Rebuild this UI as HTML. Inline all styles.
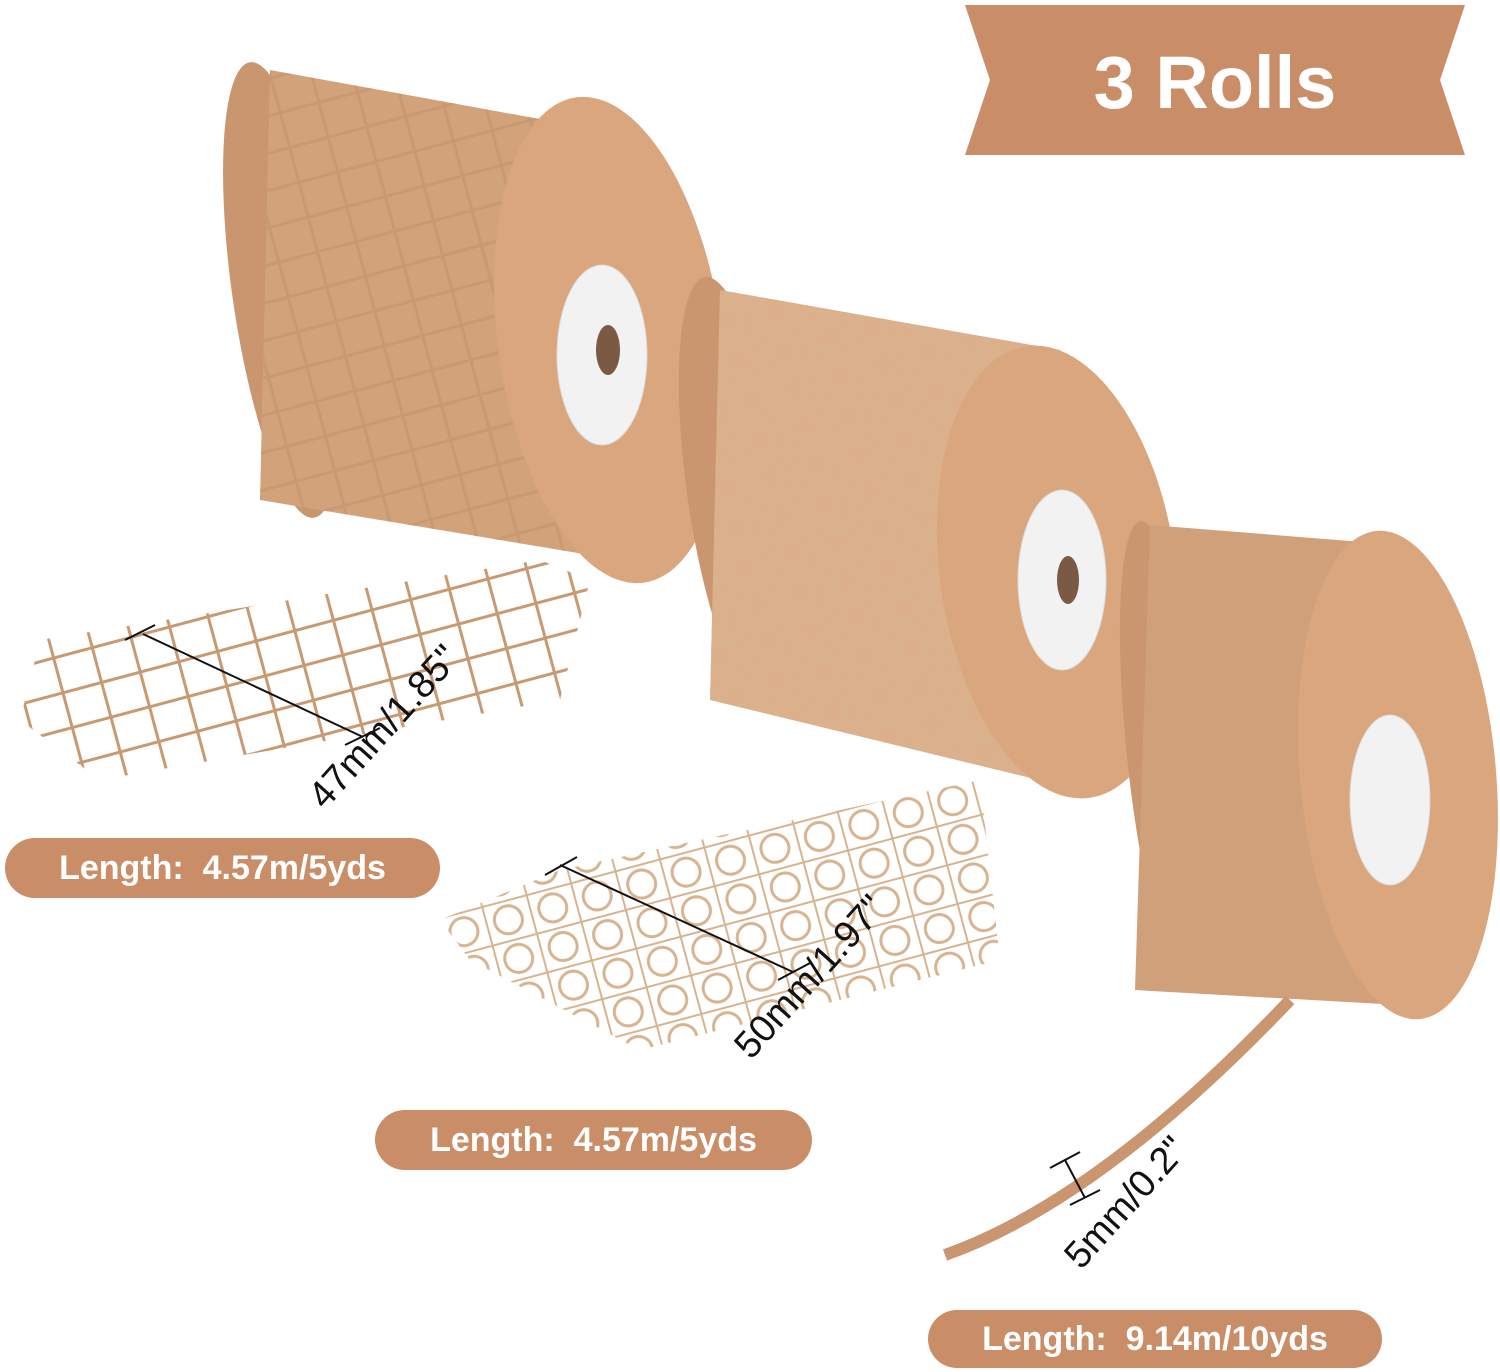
<!DOCTYPE html>
<html><head><meta charset="utf-8"><style>
html,body{margin:0;padding:0;background:#fff;width:1500px;height:1372px;overflow:hidden;font-family:"Liberation Sans",sans-serif}
.pill{position:absolute;background:#c98e68;color:#fff;font-weight:bold;font-size:34px;border-radius:30px;display:flex;align-items:center;justify-content:center;white-space:pre}
.dim{position:absolute;font-size:38px;line-height:38px;color:#111;white-space:nowrap;transform-origin:0 0}
</style></head><body>
<svg width="1500" height="1372" style="position:absolute;left:0;top:0">
<defs>
<pattern id="mesh" width="40" height="36" patternUnits="userSpaceOnUse" patternTransform="rotate(-15)">
<rect width="40" height="36" fill="none"/><path d="M0 0H40M0 0V36" stroke="#c99a72" stroke-width="6"/></pattern>
<pattern id="mesh2" width="46" height="40" patternUnits="userSpaceOnUse" patternTransform="rotate(-15)">
<path d="M0 0H46M0 0V40" stroke="#d8b38f" stroke-width="4"/><circle cx="23" cy="20" r="14" fill="none" stroke="#d8b38f" stroke-width="3"/></pattern>
</defs>
<polygon points="965,5 1465,5 1440,80 1465,155 965,155 990,80" fill="#c98e68"/>
<ellipse cx="282" cy="290" rx="50" ry="230" fill="#c99670" transform="rotate(-8 282 290)"/>
<polygon points="270,70 600,130 620,560 260,500" fill="#d2a27b"/>
<polygon points="270,70 600,130 620,560 260,500" fill="url(#mesh)"/>
<polygon points="20,720 40,640 540,560 590,580 560,700 100,780" fill="url(#mesh)"/>
<ellipse cx="610" cy="340" rx="112" ry="245" fill="#d9a67d" transform="rotate(-8 610 340)"/>
<ellipse cx="602" cy="355" rx="45" ry="90" fill="#f2f2f2" stroke="#ddd"/>
<ellipse cx="608" cy="350" rx="12" ry="25" fill="#7a5a44"/>
<ellipse cx="735" cy="490" rx="48" ry="215" fill="#c99670" transform="rotate(-8 735 490)"/>
<polygon points="720,290 1060,350 1080,790 710,700" fill="#dcb08a"/>
<polygon points="720,290 1060,350 1080,790 710,700" fill="url(#mesh2)"/>
<polygon points="440,920 560,870 980,780 1000,960 640,1050 470,960" fill="url(#mesh2)"/>
<ellipse cx="1058" cy="572" rx="118" ry="228" fill="#d9a67d" transform="rotate(-8 1058 572)"/>
<ellipse cx="1062" cy="580" rx="44" ry="90" fill="#f2f2f2" stroke="#ddd"/>
<ellipse cx="1068" cy="580" rx="11" ry="24" fill="#7a5a44"/>
<ellipse cx="1165" cy="755" rx="38" ry="235" fill="#c99670" transform="rotate(-6 1165 755)"/>
<polygon points="1150,525 1400,545 1400,1005 1135,990" fill="#d0a07a"/>
<path d="M945 1255 Q1100 1200 1290 1000" stroke="#c99670" stroke-width="12" fill="none"/>
<ellipse cx="1398" cy="775" rx="98" ry="245" fill="#d9a67d" transform="rotate(-5 1398 775)"/>
<ellipse cx="1390" cy="800" rx="40" ry="85" fill="#f2f2f2" stroke="#ddd"/>
<g stroke="#111" stroke-width="2">
<line x1="143" y1="634" x2="363" y2="737"/><line x1="125" y1="640" x2="155" y2="625"/><line x1="345" y1="745" x2="380" y2="728"/>
<line x1="560" y1="865" x2="793" y2="972"/><line x1="545" y1="875" x2="577" y2="857"/><line x1="778" y1="980" x2="812" y2="962"/>
<line x1="1065" y1="1160" x2="1085" y2="1198"/><line x1="1050" y1="1168" x2="1080" y2="1152"/><line x1="1070" y1="1205" x2="1100" y2="1190"/>
</g>
</svg>
<div style="position:absolute;left:965px;top:38px;width:500px;text-align:center;color:#fff;font-weight:bold;font-size:74px;line-height:90px">3 Rolls</div>
<div class="dim" style="left:302px;top:790px;transform:rotate(-48deg)">47mm/1.85"</div>
<div class="dim" style="left:728px;top:1040px;transform:rotate(-48deg)">50mm/1.97"</div>
<div class="dim" style="left:1058px;top:1250px;transform:rotate(-48deg)">5mm/0.2"</div>
<div class="pill" style="left:5px;top:838px;width:435px;height:60px">Length:  4.57m/5yds</div>
<div class="pill" style="left:375px;top:1110px;width:437px;height:60px">Length:  4.57m/5yds</div>
<div class="pill" style="left:928px;top:1310px;width:454px;height:58px">Length:  9.14m/10yds</div>
</body></html>
